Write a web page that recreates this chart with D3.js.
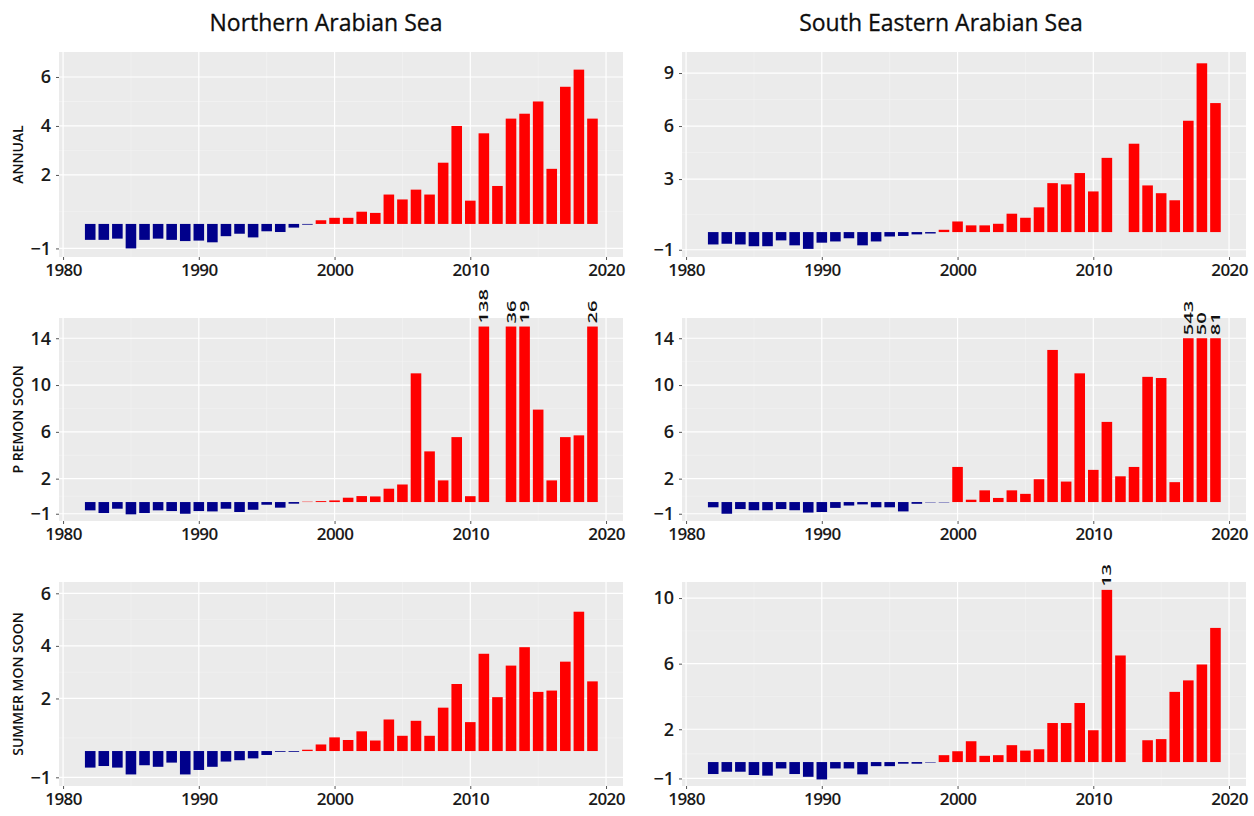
<!DOCTYPE html>
<html>
<head>
<meta charset="utf-8">
<script src="https://cdn.jsdelivr.net/npm/d3@7"></script>
<style>
  body { margin: 0; background: #fff; }
  svg { display: block; }
  text { font-family: "Open Sans", "Noto Sans", sans-serif; }
</style>
</head>
<body>
<svg id="chart" width="1254" height="816"></svg>
<script>
// years on the x axis
var years = d3.range(1982, 2020);
var xTicks = [1980, 1990, 2000, 2010, 2020];
var xMinor = [1985, 1995, 2005, 2015];

var regions = ["Northern Arabian Sea", "South Eastern Arabian Sea"];
var seasons = ["ANNUAL", "P REMON SOON", "SUMMER MON SOON"];

// Northern Arabian Sea
var nasAnnual = [-0.65, -0.65, -0.6, -1.0, -0.65, -0.6, -0.65, -0.7, -0.68, -0.75, -0.5, -0.4, -0.55, -0.3, -0.33, -0.15, -0.03,
  0.15, 0.25, 0.25, 0.5, 0.45, 1.2, 1.0, 1.4, 1.2, 2.5, 4.0, 0.95, 3.7, 1.55, 4.3, 4.5, 5.0, 2.25, 5.6, 6.3, 4.3];
var nasPre = [-0.71, -0.94, -0.57, -1.05, -0.94, -0.71, -0.77, -1.0, -0.77, -0.8, -0.57, -0.85, -0.66, -0.23, -0.48, -0.14,
  0.03, 0.08, 0.14, 0.37, 0.51, 0.48, 1.14, 1.5, 11.0, 4.33, 1.85, 5.55, 0.5, 138, null, 36, 19, 7.9, 1.85, 5.55, 5.7, 26];
var nasSummer = [-0.63, -0.57, -0.63, -0.89, -0.54, -0.6, -0.44, -0.89, -0.72, -0.6, -0.4, -0.35, -0.28, -0.15, -0.03, -0.03,
  0.05, 0.25, 0.52, 0.42, 0.75, 0.4, 1.2, 0.58, 1.15, 0.58, 1.65, 2.55, 1.1, 3.7, 2.05, 3.25, 3.95, 2.25, 2.3, 3.4, 5.3, 2.65];

// South Eastern Arabian Sea
var seasAnnual = [-0.7, -0.66, -0.7, -0.8, -0.8, -0.47, -0.75, -0.95, -0.6, -0.53, -0.35, -0.75, -0.53, -0.25, -0.22, -0.13, -0.08,
  0.13, 0.6, 0.38, 0.38, 0.47, 1.04, 0.81, 1.4, 2.77, 2.7, 3.34, 2.3, 4.2, null, 5.0, 2.64, 2.2, 1.8, 6.3, 9.55, 7.3];
var seasPre = [-0.45, -1.0, -0.6, -0.7, -0.7, -0.6, -0.7, -0.9, -0.85, -0.5, -0.3, -0.2, -0.45, -0.45, -0.8, -0.15, -0.03, -0.03,
  3.0, 0.2, 1.0, 0.35, 1.0, 0.7, 1.95, 13.0, 1.75, 11.0, 2.75, 6.85, 2.2, 3.0, 10.7, 10.6, 1.7, 543, 50, 81];
var seasSummer = [-0.73, -0.59, -0.59, -0.79, -0.83, -0.39, -0.73, -0.9, -1.06, -0.39, -0.39, -0.75, -0.25, -0.25, -0.1, -0.1, -0.03,
  0.42, 0.66, 1.27, 0.38, 0.42, 1.03, 0.7, 0.78, 2.38, 2.38, 3.6, 1.94, 13, 6.5, null, 1.33, 1.4, 4.28, 4.98, 5.95, 8.18];

// y tick labels per panel
var annualTicksN = [-1, 2, 4, 6];
var annualTicksS = [-1, 3, 6, 9];
var preTicks = [-1, 2, 6, 10, 14];
var summerTicksN = [-1, 2, 4, 6];
var summerTicksS = [-1, 2, 6, 10];

var panels = [
  { col: 0, row: 0, values: nasAnnual, ticks: annualTicksN, domain: [-1.35, 7.02], cap: null },
  { col: 1, row: 0, values: seasAnnual, ticks: annualTicksS, domain: [-1.41, 10.19], cap: null },
  { col: 0, row: 1, values: nasPre, ticks: preTicks, domain: [-1.62, 15.73], cap: 15 },
  { col: 1, row: 1, values: seasPre, ticks: preTicks, domain: [-1.62, 15.73], cap: 14 },
  { col: 0, row: 2, values: nasSummer, ticks: summerTicksN, domain: [-1.33, 6.43], cap: null },
  { col: 1, row: 2, values: seasSummer, ticks: summerTicksS, domain: [-1.46, 10.98], cap: 10.5 }
];

var colX = [{ left: 59, right: 623, title: 326 }, { left: 682, right: 1246, title: 941 }];
var rowY = [{ top: 52, bottom: 257 }, { top: 318, bottom: 521 }, { top: 582, bottom: 786 }];

var svg = d3.select("#chart");

// region titles
svg.selectAll(".title")
  .data(regions)
  .enter().append("text")
  .attr("class", "title")
  .attr("x", function (d, i) { return colX[i].title; })
  .attr("y", 31)
  .attr("text-anchor", "middle")
  .attr("font-size", 23)
  .attr("fill", "#0d0d0d")
  .attr("stroke", "#0d0d0d").attr("stroke-width", 0.3)
  .text(function (d) { return d; });

// season labels on the left
svg.selectAll(".season")
  .data(seasons)
  .enter().append("text")
  .attr("class", "season")
  .attr("transform", function (d, i) {
    return "translate(23," + (rowY[i].top + rowY[i].bottom) / 2 + ") rotate(-90)";
  })
  .attr("text-anchor", "middle")
  .attr("font-size", 14)
  .attr("font-weight", 600)
  .attr("fill", "#111")
  .text(function (d) { return d; });

panels.forEach(function (p) {
  var cx = colX[p.col], ry = rowY[p.row];

  var xScale = d3.scaleLinear()
    .domain([1979.7, 2021.25])
    .range([cx.left, cx.right]);

  var yScale = d3.scaleLinear()
    .domain(p.domain)
    .range([ry.bottom, ry.top]);

  var g = svg.append("g");

  // grey panel
  g.append("rect")
    .attr("x", cx.left)
    .attr("y", ry.top)
    .attr("width", cx.right - cx.left)
    .attr("height", ry.bottom - ry.top)
    .attr("fill", "#ebebeb");

  // minor grid
  var yMinor = [];
  for (var i = 0; i < p.ticks.length - 1; i++) yMinor.push((p.ticks[i] + p.ticks[i + 1]) / 2);

  g.selectAll(".yminor")
    .data(yMinor)
    .enter().append("line")
    .attr("x1", cx.left).attr("x2", cx.right)
    .attr("y1", function (d) { return yScale(d); })
    .attr("y2", function (d) { return yScale(d); })
    .attr("stroke", "#f4f4f4").attr("stroke-width", 0.6);

  g.selectAll(".xminor")
    .data(xMinor)
    .enter().append("line")
    .attr("x1", function (d) { return xScale(d); })
    .attr("x2", function (d) { return xScale(d); })
    .attr("y1", ry.top).attr("y2", ry.bottom)
    .attr("stroke", "#f4f4f4").attr("stroke-width", 0.6);

  // major grid
  g.selectAll(".ymajor")
    .data(p.ticks)
    .enter().append("line")
    .attr("x1", cx.left).attr("x2", cx.right)
    .attr("y1", function (d) { return yScale(d); })
    .attr("y2", function (d) { return yScale(d); })
    .attr("stroke", "#fff").attr("stroke-width", 1.2);

  g.selectAll(".xmajor")
    .data(xTicks)
    .enter().append("line")
    .attr("x1", function (d) { return xScale(d); })
    .attr("x2", function (d) { return xScale(d); })
    .attr("y1", ry.top).attr("y2", ry.bottom)
    .attr("stroke", "#fff").attr("stroke-width", 1.2);

  // bars, clipped to the panel cap where one is set
  var rows = years.map(function (y, i) { return { year: y, v: p.values[i] }; })
    .filter(function (d) { return d.v !== null; });
  var shown = function (d) { return p.cap !== null ? Math.min(d.v, p.cap) : d.v; };
  var bw = (xScale(1) - xScale(0)) * 0.78;

  g.selectAll(".bar")
    .data(rows)
    .enter().append("rect")
    .attr("class", "bar")
    .attr("x", function (d) { return xScale(d.year) - bw / 2; })
    .attr("width", bw)
    .attr("y", function (d) { return yScale(Math.max(0, shown(d))); })
    .attr("height", function (d) { return Math.abs(yScale(0) - yScale(shown(d))); })
    .attr("fill", function (d) { return d.v < 0 ? "#00008b" : "#ff0000"; });

  // values of the clipped bars
  if (p.cap !== null) {
    g.selectAll(".over")
      .data(rows.filter(function (d) { return d.v > p.cap; }))
      .enter().append("text")
      .attr("transform", function (d) {
        return "translate(" + (xScale(d.year) + 4.5) + "," + (yScale(p.cap) - 3) + ") rotate(-90)";
      })
      .attr("font-size", 13)
      .attr("font-weight", 600)
      .attr("fill", "#111")
      .attr("textLength", function (d) { return String(d.v).length * 11.5; })
      .attr("lengthAdjust", "spacingAndGlyphs")
      .text(function (d) { return d.v; });
  }

  // axes
  var yAxis = d3.axisLeft(yScale).tickValues(p.ticks).tickSize(3).tickPadding(5);
  var xAxis = d3.axisBottom(xScale).tickValues(xTicks).tickSize(3).tickPadding(4).tickFormat(d3.format("d"));

  var ya = g.append("g")
    .attr("transform", "translate(" + cx.left + ",0)")
    .call(yAxis);
  ya.select(".domain").remove();
  ya.selectAll("line").attr("stroke", "#555");
  ya.selectAll("text")
    .attr("font-size", 18).attr("font-weight", 600).attr("fill", "#1a1a1a")
    .style("font-family", "'Open Sans', sans-serif");

  var xa = g.append("g")
    .attr("transform", "translate(0," + ry.bottom + ")")
    .call(xAxis);
  xa.select(".domain").remove();
  xa.selectAll("line").attr("stroke", "#555");
  xa.selectAll("text")
    .attr("font-size", 17).attr("font-weight", 600).attr("fill", "#1a1a1a")
    .attr("letter-spacing", -0.6)
    .style("font-family", "'Open Sans', sans-serif");
});
</script>
</body>
</html>
